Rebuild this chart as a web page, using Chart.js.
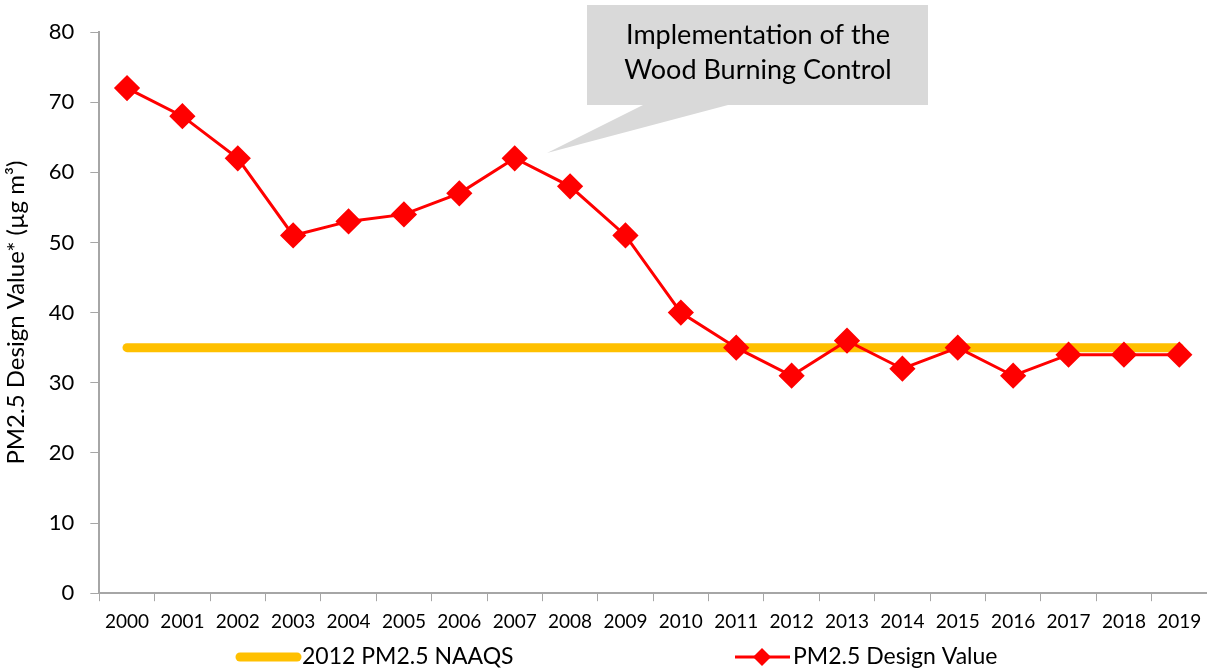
<!DOCTYPE html>
<html>
<head>
<meta charset="utf-8">
<script src="https://cdn.jsdelivr.net/npm/chart.js@4.4.1/dist/chart.umd.min.js"></script>
<style>
html,body{margin:0;padding:0;background:#fff;}
#wrap{width:1207px;height:671px;position:relative;}
</style>
</head>
<body>
<div id="wrap"><canvas id="c" width="1207" height="671"></canvas></div>
<script>
const years = ['2000','2001','2002','2003','2004','2005','2006','2007','2008','2009','2010','2011','2012','2013','2014','2015','2016','2017','2018','2019'];
const designValues = [72,68,62,51,53,54,57,62,58,51,40,35,31,36,32,35,31,34,34,34];
const naaqsValues = [35,35,35,35,35,35,35,35,35,35,35,35,35,35,35,35,35,35,35,35];
const yTicks = [0,10,20,30,40,50,60,70,80];
const calloutLines = ['Implementation of the','Wood Burning Control'];
const FONT = 'Lato, "Open Sans", sans-serif';

const extras = {
  id:'extras',
  afterDraw(chart){
    const ctx = chart.ctx;
    ctx.save();
    // callout
    ctx.fillStyle = '#D9D9D9';
    ctx.beginPath();
    ctx.moveTo(587,5); ctx.lineTo(928,5); ctx.lineTo(928,105);
    ctx.lineTo(728,105); ctx.lineTo(547,153); ctx.lineTo(643,105);
    ctx.lineTo(587,105); ctx.closePath(); ctx.fill();
    ctx.fillStyle = '#000';
    ctx.font = '27px ' + FONT;
    ctx.textAlign = 'center'; ctx.textBaseline = 'middle';
    ctx.fillText(calloutLines[0], 758, 35);
    ctx.fillText(calloutLines[1], 758, 70);
    // legend
    const ly = 657;
    ctx.lineCap = 'round';
    ctx.strokeStyle = '#FFC000'; ctx.lineWidth = 9;
    ctx.beginPath(); ctx.moveTo(240,ly); ctx.lineTo(297,ly); ctx.stroke();
    ctx.lineCap = 'butt';
    ctx.strokeStyle = '#FF0000'; ctx.lineWidth = 3;
    ctx.beginPath(); ctx.moveTo(735,ly); ctx.lineTo(790,ly); ctx.stroke();
    ctx.fillStyle = '#FF0000';
    ctx.beginPath(); ctx.moveTo(762,ly-9); ctx.lineTo(771,ly); ctx.lineTo(762,ly+9); ctx.lineTo(753,ly); ctx.closePath(); ctx.fill();
    ctx.fillStyle = '#000';
    ctx.font = '23px ' + FONT;
    ctx.textAlign = 'left';
    ctx.fillText(chart.data.datasets[0].label, 302, ly);
    ctx.fillText(chart.data.datasets[1].label, 793, ly);
    ctx.restore();
  }
};

new Chart(document.getElementById('c'), {
  type:'line',
  data:{
    labels: years,
    datasets:[
      {label:'2012 PM2.5 NAAQS', data:naaqsValues, borderColor:'#FFC000', borderWidth:9, borderCapStyle:'round', pointRadius:0, order:2},
      {label:'PM2.5 Design Value', data:designValues, borderColor:'#FF0000', backgroundColor:'#FF0000', borderWidth:3, pointStyle:'rectRot', pointRadius:11, pointHoverRadius:11, order:1}
    ]
  },
  options:{
    responsive:false, animation:false,
    layout:{autoPadding:false, padding:{left:2, right:0, top:32, bottom:29}},
    plugins:{legend:{display:false}, tooltip:{enabled:false}},
    scales:{
      x:{
        offset:true,
        afterFit(scale){ scale.paddingRight = 0; scale.paddingLeft = 0; },
        grid:{offset:true, drawOnChartArea:false, drawTicks:true, tickLength:8, color:'#A6A6A6'},
        border:{color:'#A6A6A6', width:2},
        ticks:{color:'#000', font:{family:FONT, size:19}, padding:9, maxRotation:0, autoSkip:false}
      },
      y:{
        min:0, max:80,
        afterBuildTicks(scale){ scale.ticks = yTicks.map(v=>({value:v})); },
        grid:{drawOnChartArea:false, drawTicks:true, tickLength:9, color:'#A6A6A6'},
        border:{color:'#A6A6A6', width:2},
        ticks:{color:'#000', font:{family:FONT, size:22}, padding:16},
        title:{display:true, text:'PM2.5 Design Value* (µg m³)', color:'#000', font:{family:FONT, size:24}, padding:{top:0,bottom:2}}
      }
    }
  },
  plugins:[extras]
});
</script>
</body>
</html>
